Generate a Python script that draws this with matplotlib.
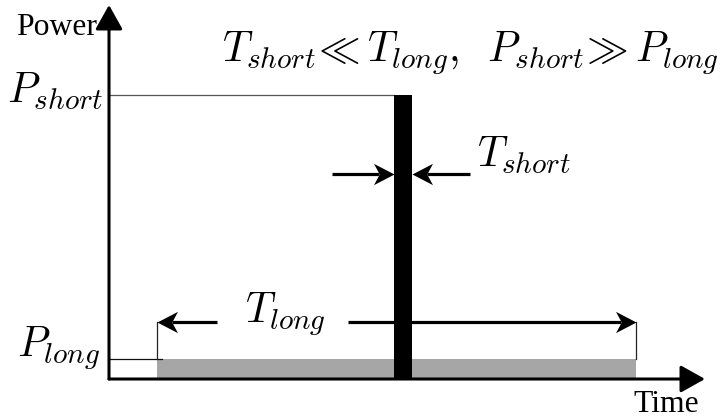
import matplotlib
matplotlib.use("Agg")
import matplotlib.pyplot as plt
import numpy as np
from matplotlib.path import Path

plt.rcParams["mathtext.fontset"] = "cm"

# Pulse description (time / power units)
P_short = 284
P_long = 20
short_start, short_width = 285, 18
long_start, long_end = 48, 527
t_axis_end = 596
p_axis_end = 374

# Dimension-line heights and arrow tails
T_long_y = 57
T_long_tails = [108, 239]
T_short_y = 205
T_short_tails = [223, 361]

axis_labels = ["Power", "Time"]
level_labels = [r"$P_{short}$", r"$P_{long}$"]
dim_labels = [r"$T_{short}$", r"$T_{long}$"]
title_text = r"$T_{short}\!\ll T_{long},\;\;P_{short}\!\gg P_{long}$"

W, H = 727, 418
fig = plt.figure(figsize=(W / 100, H / 100), dpi=100)
ax = fig.add_axes([0, 0, 1, 1])
ax.set_xlim(-109, W - 109)
ax.set_ylim(-39, H - 39)
ax.axis("off")

black = "#000000"
grey = "#a6a6a6"
thin = "#555555"

# Long low-power block and short high-power pulse
ax.bar(long_start, P_long, width=long_end - long_start, align="edge",
       color=grey, linewidth=0, zorder=1)
ax.bar(short_start, P_short, width=short_width, align="edge",
       color=black, linewidth=0, zorder=3)

# Thin level and extension lines
ax.plot([0, short_start], [P_short, P_short], color=thin, lw=0.9, zorder=2)
ax.plot([0, long_start + 5], [P_long, P_long], color="#111111", lw=0.9, zorder=2)
for t in (long_start, long_end):
    ax.plot([t, t], [P_long, T_long_y], color="#222222", lw=0.9, zorder=2)

# Axes with filled triangular heads
axis_kw = dict(arrowstyle="-|>,head_length=0.75,head_width=0.42",
               mutation_scale=20, color=black, lw=2.2,
               shrinkA=0, shrinkB=0)
ax.annotate("", xy=(0, p_axis_end), xytext=(0, 0), arrowprops=axis_kw, zorder=4)
ax.annotate("", xy=(t_axis_end, 0), xytext=(0, 0), arrowprops=axis_kw, zorder=4)

# Barbed arrowhead (points to +x, tip at origin)
head_verts = [(0, 0), (-1.0, 0.52), (-0.72, 0), (-1.0, -0.52), (0, 0)]
head_codes = [Path.MOVETO, Path.LINETO, Path.LINETO, Path.LINETO, Path.CLOSEPOLY]
head_right = Path(head_verts, head_codes)
head_left = Path([(-x, y) for x, y in head_verts], head_codes)
head_ms = 29.5  # tip-to-back = 0.5 * ms points
notch = 0.72 * 0.5 * head_ms * 100 / 72  # in data units (1 unit = 1 px)


def dim_arrow(x_tail, x_tip, y):
    direction = np.sign(x_tip - x_tail)
    ax.plot([x_tail, x_tip - direction * notch], [y, y],
            color=black, lw=2.3, solid_capstyle="butt", zorder=4)
    marker = head_right if direction > 0 else head_left
    ax.plot([x_tip], [y], marker=marker, markersize=head_ms,
            color=black, markeredgewidth=0, zorder=5)


dim_arrow(T_long_tails[0], long_start, T_long_y)
dim_arrow(T_long_tails[1], long_end, T_long_y)
dim_arrow(T_short_tails[0], short_start, T_short_y)
dim_arrow(T_short_tails[1], short_start + short_width, T_short_y)

# Text
serif = ["Liberation Serif", "DejaVu Serif"]
math_fs = 30
ax.text(-12, 344, axis_labels[0], family=serif, fontsize=22.8,
        ha="right", va="baseline")
ax.text(524, -33, axis_labels[1], family=serif, fontsize=22.8,
        ha="left", va="baseline")
ax.text(-6, 276, level_labels[0], fontsize=math_fs, ha="right", va="baseline")
ax.text(-9, 22, level_labels[1], fontsize=math_fs, ha="right", va="baseline")
ax.text(368, 212, dim_labels[0], fontsize=math_fs, ha="left", va="baseline")
ax.text(136, 56, dim_labels[1], fontsize=math_fs, ha="left", va="baseline")
ax.text(113, 317, title_text, fontsize=math_fs, ha="left", va="baseline")

fig.savefig("out.png", dpi=100)
